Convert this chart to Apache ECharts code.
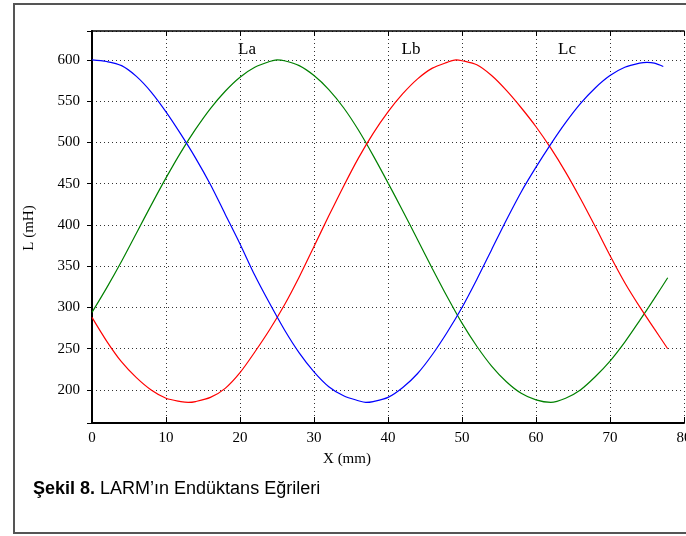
<!DOCTYPE html>
<html>
<head>
<meta charset="utf-8">
<script src="https://cdn.jsdelivr.net/npm/echarts@6/dist/echarts.min.js"></script>
<style>
  html, body { margin: 0; padding: 0; background: #fff; }
  #chart { width: 686px; height: 536px; }
</style>
</head>
<body>
<div id="chart"></div>
<script>
// Inductance of the three phases versus rotor position
const seriesNames = ['La', 'Lb', 'Lc'];

// La (green)
const laX = [0, 2, 4, 6, 8, 10, 12, 14, 16, 18, 20, 22, 24, 25, 26, 28, 30, 32, 34, 36, 38, 40, 42, 44, 46, 48, 50, 52, 54, 56, 58, 60, 62, 64, 66, 68, 70, 72, 74, 76, 77.8];
const laY = [294, 324, 356, 390, 424, 457, 488, 516, 541, 562, 579, 591, 598, 600, 599, 593, 581, 564, 542, 515, 484, 451, 417, 382, 347, 313, 281, 253, 229, 210, 196, 188, 185, 190, 200, 216, 235, 258, 284, 311, 336];

// Lb (red)
const lbX = [0, 2, 4, 6, 8, 10, 12, 13, 14, 16, 18, 20, 22, 24, 26, 28, 30, 32, 34, 36, 38, 40, 42, 44, 46, 48, 49.2, 50, 52, 54, 56, 58, 60, 62, 64, 66, 68, 70, 72, 74, 76, 77.8];
const lbY = [288, 259, 234, 215, 200, 190, 186, 185, 186, 191, 202, 221, 246, 273, 303, 337, 374, 411, 447, 481, 511, 537, 559, 577, 590, 597, 600, 599, 594, 581, 563, 542, 519, 493, 464, 432, 398, 363, 330, 301, 274, 250];

// Lc (blue)
const lcX = [0, 2, 4, 6, 8, 10, 12, 14, 16, 18, 20, 22, 24, 26, 28, 30, 32, 34, 36, 37, 38, 40, 42, 44, 46, 48, 50, 52, 54, 56, 58, 60, 62, 64, 66, 68, 70, 72, 74, 75, 76, 77.2];
const lcY = [600, 598, 593, 580, 561, 537, 510, 481, 449, 413, 377, 339, 305, 273, 245, 222, 204, 193, 187, 185, 186, 191, 203, 220, 243, 270, 300, 334, 370, 406, 440, 470, 498, 524, 547, 566, 581, 591, 596, 597, 596, 592];

const seriesColors = ['#008000', '#ff0000', '#0000ff'];

const xMin = 0, xMax = 80, xStep = 10;
const yMin = 160, yMax = 635;

const xAxisTitle = 'X (mm)';
const yAxisTitle = 'L (mH)';
const caption = ['Şekil 8.', ' LARM’ın Endüktans Eğrileri'];

const pairs = (xs, ys) => xs.map((x, i) => [x, ys[i]]);
const curves = [pairs(laX, laY), pairs(lbX, lbY), pairs(lcX, lcY)];

const serif = 'Liberation Serif, Times New Roman, serif';
const sans = 'Liberation Sans, Arial, sans-serif';
const dotted = { color: '#333', width: 1, type: [1, 3] };

const chart = echarts.init(document.getElementById('chart'), null, { renderer: 'canvas' });

chart.setOption({
  backgroundColor: '#fff',
  animation: false,
  grid: { left: 92, right: 2, top: 31, bottom: 113, containLabel: false, outerBoundsMode: 'none' },
  xAxis: [
    {
      type: 'value', min: xMin, max: xMax, interval: xStep, position: 'bottom',
      axisLine: { show: true, lineStyle: { color: '#000', width: 2 } },
      axisTick: { show: true, inside: true, length: 6, lineStyle: { color: '#000', width: 1 } },
      axisLabel: { color: '#000', fontFamily: serif, fontSize: 15, margin: 8 },
      splitLine: { show: true, lineStyle: dotted }
    },
    {
      type: 'value', min: xMin, max: xMax, interval: xStep, position: 'top',
      axisLine: { show: true, lineStyle: { color: '#000', width: 1.5 } },
      axisTick: { show: true, inside: true, length: 5, lineStyle: { color: '#000', width: 1 } },
      axisLabel: { show: false },
      splitLine: { show: false }
    }
  ],
  yAxis: [
    {
      type: 'value', min: yMin, max: yMax, splitNumber: 9, position: 'left',
      axisLine: { show: true, lineStyle: { color: '#000', width: 2 } },
      axisTick: { show: true, inside: false, length: 4, lineStyle: { color: '#000', width: 1 } },
      axisLabel: { color: '#000', fontFamily: serif, fontSize: 15, margin: 12, showMinLabel: false, showMaxLabel: false },
      splitLine: { show: true, lineStyle: dotted }
    },
    {
      type: 'value', min: yMin, max: yMax, splitNumber: 9, position: 'right',
      axisLine: { show: true, lineStyle: { color: '#000', width: 1.5 } },
      axisTick: { show: true, inside: true, length: 5, lineStyle: { color: '#000', width: 1 } },
      axisLabel: { show: false },
      splitLine: { show: false }
    }
  ],
  series: curves.map((data, i) => ({
    name: seriesNames[i],
    type: 'line',
    xAxisIndex: 0,
    yAxisIndex: 0,
    data: data,
    smooth: 0.3,
    showSymbol: false,
    lineStyle: { color: seriesColors[i], width: 1.2 },
    itemStyle: { color: seriesColors[i] }
  })),
  graphic: [
    {
      type: 'rect', silent: true, z: -1,
      shape: { x: 14, y: 4, width: 700, height: 529 },
      style: { fill: 'none', stroke: '#555', lineWidth: 2 }
    },
    { type: 'text', x: 247, y: 50, style: { text: seriesNames[0], font: '17px ' + serif, fill: '#000', align: 'center', verticalAlign: 'middle' } },
    { type: 'text', x: 411, y: 50, style: { text: seriesNames[1], font: '17px ' + serif, fill: '#000', align: 'center', verticalAlign: 'middle' } },
    { type: 'text', x: 567, y: 50, style: { text: seriesNames[2], font: '17px ' + serif, fill: '#000', align: 'center', verticalAlign: 'middle' } },
    { type: 'text', x: 347, y: 459, style: { text: xAxisTitle, font: '15px ' + serif, fill: '#000', align: 'center', verticalAlign: 'middle' } },
    { type: 'text', x: 29, y: 228, rotation: Math.PI / 2, style: { text: yAxisTitle, font: '15px ' + serif, fill: '#000', align: 'center', verticalAlign: 'middle' } },
    {
      type: 'text', x: 33, y: 489,
      style: {
        text: '{b|' + caption[0] + '}{n|' + caption[1] + '}',
        verticalAlign: 'middle',
        rich: {
          b: { font: 'bold 18px ' + sans, fill: '#000' },
          n: { font: '18px ' + sans, fill: '#000' }
        }
      }
    }
  ]
});
</script>
</body>
</html>
